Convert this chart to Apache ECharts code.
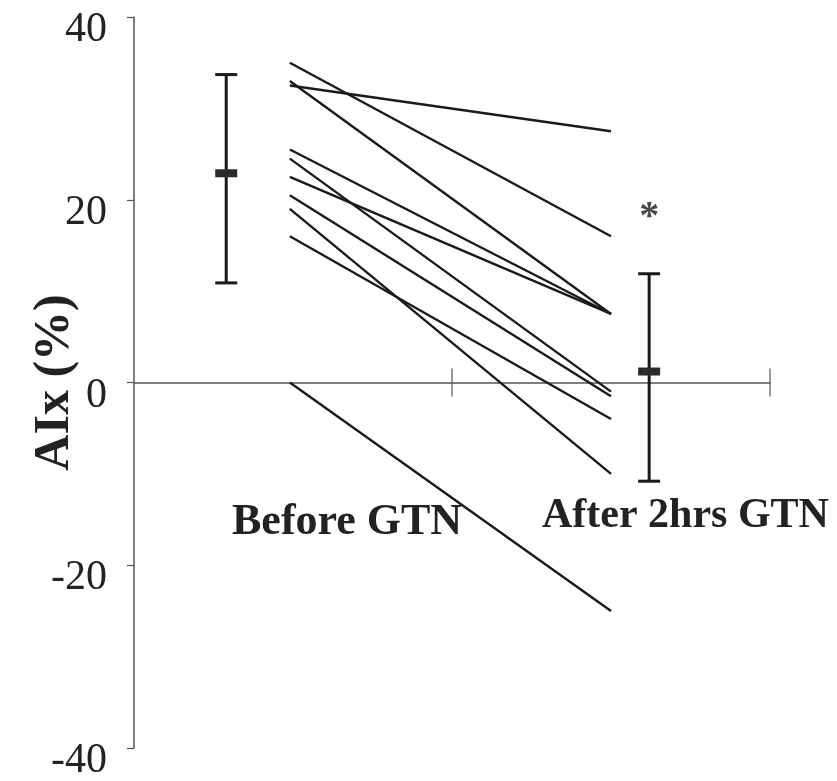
<!DOCTYPE html>
<html>
<head>
<meta charset="utf-8">
<script src="https://cdn.jsdelivr.net/npm/echarts@6/dist/echarts.min.js"></script>
<style>
  html, body { margin: 0; padding: 0; background: #ffffff; }
  #chart { width: 837px; height: 781px; }
</style>
</head>
<body>
<div id="chart"></div>
<script>
// ---- data ----
const groups = ['Before GTN', 'After 2hrs GTN'];
const beforeVals = [35, 33, 32.5, 25.5, 24.5, 22.5, 20.5, 19, 16, 0];
const afterVals  = [16, 7.5, 27.5, 7.5, -1, 7.5, -1.5, -10, -4, -25];
const meanVals = [22.9, 1.2];
const sdLow    = [10.9, -10.8];
const sdHigh   = [33.7, 11.9];
const yTicks = [-40, -20, 0, 20, 40];
const xTicks = [1, 2];
const sigMark = '*';

// positions on the x value scale (0..2)
const xBefore = 0.49, xAfter = 1.50;
const xErr = [0.29, 1.62];

const chart = echarts.init(document.getElementById('chart'));
const serif = 'Liberation Serif, Times New Roman, serif';

const series = [];
beforeVals.forEach(function (b, i) {
  series.push({
    type: 'line',
    data: [[xBefore, b], [xAfter, afterVals[i]]],
    symbol: 'none',
    lineStyle: { color: '#1a1a1a', width: 2.4 },
    silent: true,
    z: 3
  });
});

// error bars (mean +/- SD)
series.push({
  type: 'custom',
  data: meanVals.map(function (m, i) { return [xErr[i], m, sdLow[i], sdHigh[i]]; }),
  renderItem: function (params, api) {
    const x = api.value(0);
    const pm = api.coord([x, api.value(1)]);
    const pl = api.coord([x, api.value(2)]);
    const ph = api.coord([x, api.value(3)]);
    const cap = 11;
    const st = { stroke: '#1a1a1a', lineWidth: 3 };
    return {
      type: 'group',
      children: [
        { type: 'line', shape: { x1: pl[0], y1: pl[1], x2: ph[0], y2: ph[1] }, style: st },
        { type: 'line', shape: { x1: ph[0] - cap, y1: ph[1], x2: ph[0] + cap, y2: ph[1] }, style: st },
        { type: 'line', shape: { x1: pl[0] - cap, y1: pl[1], x2: pl[0] + cap, y2: pl[1] }, style: st },
        { type: 'rect', shape: { x: pm[0] - 11, y: pm[1] - 4, width: 22, height: 8 }, style: { fill: '#2a2a2a' } }
      ]
    };
  },
  silent: true,
  z: 4
});

// crossing ticks on the zero line
series.push({
  type: 'scatter',
  data: xTicks.map(function (t) { return [t, 0]; }),
  symbol: 'rect',
  symbolSize: [1.5, 28],
  itemStyle: { color: '#555' },
  silent: true,
  z: 2
});

// significance mark
series.push({
  type: 'scatter',
  data: [[xErr[1], 18]],
  symbolSize: 0,
  label: {
    show: true,
    position: 'inside',
    formatter: sigMark,
    fontFamily: serif,
    fontSize: 40,
    fontWeight: 'bold',
    color: '#1a1a1a'
  },
  silent: true,
  z: 5
});

chart.setOption({
  backgroundColor: '#ffffff',
  animation: false,
  grid: { left: 134, top: 17, right: 67, bottom: 33, containLabel: false, outerBoundsMode: 'none' },
  xAxis: {
    type: 'value',
    min: 0, max: 2, interval: 1,
    axisLine: { show: true, onZero: true, lineStyle: { color: '#555', width: 1.5 } },
    axisTick: { show: false },
    axisLabel: { show: false },
    splitLine: { show: false }
  },
  yAxis: {
    type: 'value',
    min: -40, max: 40, interval: 20,
    name: 'AIx (%)',
    nameLocation: 'middle',
    nameGap: 54,
    nameMoveOverlap: false,
    nameTextStyle: { fontFamily: serif, fontSize: 50, fontWeight: 'bold', color: '#222' },
    axisLine: { show: true, lineStyle: { color: '#555', width: 1.5 } },
    axisTick: { show: true, length: 7, lineStyle: { color: '#555', width: 1.2 } },
    axisLabel: {
      margin: 27,
      formatter: function (v) { return yTicks.indexOf(v) >= 0 ? '{v|' + v + '}' : ''; },
      rich: {
        v: { fontFamily: serif, fontSize: 42, color: '#222', padding: [26, 0, 0, 0] }
      }
    },
    splitLine: { show: false }
  },
  graphic: [
    { type: 'text', left: 232, top: 523 - 22, style: { text: groups[0], font: 'bold 44px ' + serif, fill: '#222' } },
    { type: 'text', left: 542, top: 516 - 21, style: { text: groups[1], font: 'bold 42px ' + serif, fill: '#222' } }
  ],
  series: series
});
</script>
</body>
</html>
